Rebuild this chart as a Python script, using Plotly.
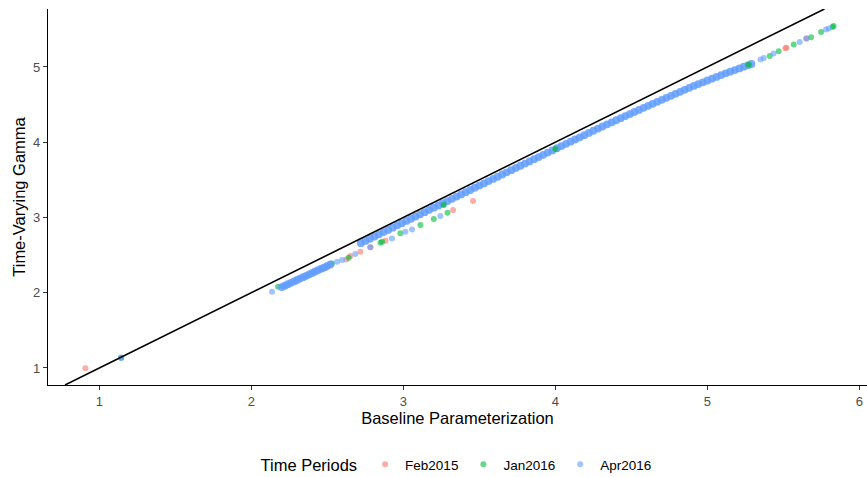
import plotly.graph_objects as go

# ---------------- data ----------------
periods = ["Feb2015", "Jan2016", "Apr2016"]
colors = {"Feb2015": "#F8766D", "Jan2016": "#00BA38", "Apr2016": "#619CFF"}

feb_x = [0.908, 2.487, 2.498, 2.625, 2.651, 2.717, 2.783, 2.882, 3.327, 3.458, 5.513, 5.520, 5.651]
feb_y = [0.996, 2.324, 2.345, 2.440, 2.487, 2.545, 2.603, 2.690, 3.098, 3.218, 5.250, 5.254, 5.378]

jan_x = [1.143, 2.176, 2.465, 2.530, 2.640, 2.849, 2.860, 2.980, 3.112, 3.200, 3.290,
         5.410, 5.469, 5.568, 5.682, 5.748, 5.824, 5.830]
jan_y = [1.137, 2.080, 2.315, 2.390, 2.466, 2.664, 2.677, 2.789, 2.899, 2.979, 3.062,
         5.147, 5.210, 5.298, 5.395, 5.466, 5.532, 5.545]

# Jan2016 points that sit on top of the dense Apr2016 band
jan_top_x = [3.265, 4.000, 5.270]
jan_top_y = [3.165, 3.910, 5.030]

apr_x = [1.143, 1.143, 2.136, 2.564, 2.597, 2.684, 2.783, 2.925, 3.013, 3.057, 3.243,
         5.349, 5.371, 5.436, 5.607, 5.651, 5.780, 5.798]
apr_y = [1.137, 1.137, 2.013, 2.412, 2.434, 2.514, 2.603, 2.722, 2.810, 2.841, 3.019,
         5.100, 5.120, 5.180, 5.333, 5.378, 5.497, 5.510]

# dense Apr2016 band (lower segment)
apr_band_a_x = [2.20, 2.22, 2.24, 2.26, 2.28, 2.30, 2.32, 2.34, 2.36, 2.38, 2.40,
                2.42, 2.44, 2.46, 2.48, 2.50, 2.52]
apr_band_a_y = [2.075, 2.094, 2.113, 2.131, 2.150, 2.169, 2.188, 2.207, 2.225, 2.244, 2.263,
                2.282, 2.301, 2.319, 2.338, 2.357, 2.376]

# dense Apr2016 band (upper segment)
apr_band_b_x = [2.72, 2.75, 2.78, 2.81, 2.84, 2.87, 2.90, 2.93, 2.96, 2.99,
                3.02, 3.05, 3.08, 3.11, 3.14, 3.17, 3.20, 3.23, 3.26, 3.29,
                3.32, 3.35, 3.38, 3.41, 3.44, 3.47, 3.50, 3.53, 3.56, 3.59,
                3.62, 3.65, 3.68, 3.71, 3.74, 3.77, 3.80, 3.83, 3.86, 3.89,
                3.92, 3.95, 3.98, 4.01, 4.04, 4.07, 4.10, 4.13, 4.16, 4.19,
                4.22, 4.25, 4.28, 4.31, 4.34, 4.37, 4.40, 4.43, 4.46, 4.49,
                4.52, 4.55, 4.58, 4.61, 4.64, 4.67, 4.70, 4.73, 4.76, 4.79,
                4.82, 4.85, 4.88, 4.91, 4.94, 4.97, 5.00, 5.03, 5.06, 5.09,
                5.12, 5.15, 5.18, 5.21, 5.24, 5.27, 5.29]
apr_band_b_y = [2.658, 2.688, 2.717, 2.747, 2.776, 2.806, 2.835, 2.865, 2.895, 2.924,
                2.954, 2.983, 3.012, 3.042, 3.071, 3.101, 3.130, 3.159, 3.189, 3.218,
                3.248, 3.277, 3.306, 3.336, 3.365, 3.395, 3.424, 3.453, 3.483, 3.512,
                3.541, 3.571, 3.600, 3.629, 3.658, 3.687, 3.716, 3.745, 3.774, 3.803,
                3.832, 3.862, 3.891, 3.920, 3.949, 3.978, 4.007, 4.036, 4.065, 4.094,
                4.123, 4.152, 4.181, 4.209, 4.237, 4.264, 4.292, 4.319, 4.347, 4.374,
                4.402, 4.429, 4.457, 4.484, 4.510, 4.537, 4.563, 4.590, 4.616, 4.643,
                4.669, 4.696, 4.722, 4.748, 4.772, 4.796, 4.820, 4.844, 4.868, 4.892,
                4.915, 4.937, 4.959, 4.981, 5.003, 5.025, 5.040]

x_ticks = [1, 2, 3, 4, 5, 6]
y_ticks = [1, 2, 3, 4, 5]
x_range = [0.662, 6.05]
y_range = [0.774, 5.77]

FONT = "Liberation Sans, Arial, sans-serif"
ALPHA = 0.6

fig = go.Figure()

def pts(x, y, name, show, size=6, opacity=ALPHA):
    fig.add_trace(go.Scatter(
        x=x, y=y, mode="markers", name=name, legendgroup=name, showlegend=show,
        marker=dict(color=colors[name], size=size, opacity=opacity, line=dict(width=0)),
        hoverinfo="x+y+name",
    ))

pts(feb_x, feb_y, "Feb2015", True)
pts(jan_x, jan_y, "Jan2016", True)
pts(apr_x, apr_y, "Apr2016", True)
pts(apr_band_a_x, apr_band_a_y, "Apr2016", False, size=7.8, opacity=0.85)
pts(apr_band_b_x, apr_band_b_y, "Apr2016", False, size=7.8, opacity=0.85)
pts(jan_top_x, jan_top_y, "Jan2016", False, size=6, opacity=0.7)

# identity line y = x across the panel
lo = max(x_range[0], y_range[0])
hi = min(x_range[1], y_range[1])
fig.add_shape(type="line", xref="x", yref="y", x0=lo, y0=lo, x1=hi, y1=hi,
              line=dict(color="black", width=1.6), layer="above")

axis_common = dict(
    showgrid=False, zeroline=False, showline=True, linecolor="#000000", linewidth=1.3,
    ticks="outside", ticklen=4, tickwidth=1.1, tickcolor="#333333",
    tickfont=dict(family=FONT, size=13, color="#4D4D4D"), mirror=False,
)

fig.update_layout(
    width=867, height=477,
    margin=dict(l=48, r=0, t=9, b=92),
    paper_bgcolor="white", plot_bgcolor="white",
    font=dict(family=FONT, color="black"),
    xaxis=dict(range=x_range, tickvals=x_ticks, ticktext=[str(v) for v in x_ticks],
               title=dict(text="Baseline Parameterization", font=dict(size=16.5, color="black"),
                          standoff=4),
               automargin=False, **axis_common),
    yaxis=dict(range=y_range, tickvals=y_ticks, ticktext=[str(v) for v in y_ticks],
               title=dict(text="Time-Varying Gamma", font=dict(size=16.5, color="black"),
                          standoff=3),
               automargin=False, **axis_common),
    legend=dict(
        orientation="h", x=0.5, xanchor="center",
        yref="container", y=0.025, yanchor="middle",
        title=dict(text="Time Periods", font=dict(size=16.5, color="black"), side="left"),
        font=dict(size=13.5, color="black", family=FONT),
        itemsizing="trace", traceorder="normal",
    ),
    showlegend=True,
)

fig.write_html(
    "out.html",
    config={"displayModeBar": False},
    post_script="document.body.style.margin='0';document.body.style.overflow='hidden';",
)
